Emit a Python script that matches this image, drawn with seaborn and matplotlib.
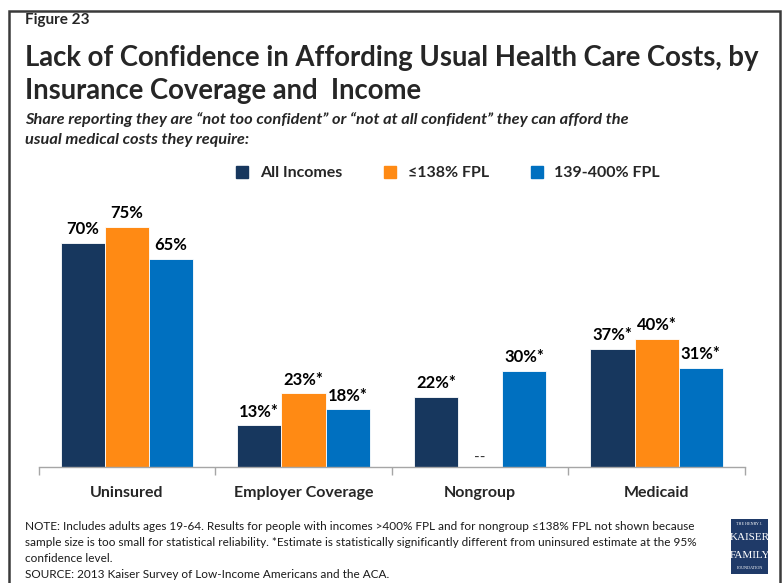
import matplotlib
matplotlib.use("Agg")
import matplotlib.pyplot as plt
from matplotlib.patches import Rectangle
from matplotlib.lines import Line2D
import numpy as np
import pandas as pd
import seaborn as sns

# ---- data ----
categories = ["Uninsured", "Employer Coverage", "Nongroup", "Medicaid"]
income_groups = ["All Incomes", "\u2264138% FPL", "139-400% FPL"]
all_incomes = [70, 13, 22, 37]
low_income = [75, 23, np.nan, 40]        # nongroup <=138% FPL not reported
mid_income = [65, 18, 30, 31]
all_sig = [False, True, True, True]
low_sig = [False, True, False, True]
mid_sig = [False, True, True, True]

colors = ["#17375E", "#FF8A14", "#0070C0"]

series = [all_incomes, low_income, mid_income]
flags = [all_sig, low_sig, mid_sig]

rows = []
for grp, vals in zip(income_groups, series):
    for cat, v in zip(categories, vals):
        rows.append({"coverage": cat, "income": grp, "share": v})
df = pd.DataFrame(rows)

sns.set_theme(style="white")
plt.rcParams["font.family"] = ["Lato", "DejaVu Sans"]

W, H = 784, 583
fig = plt.figure(figsize=(W / 100, H / 100), dpi=100)
fig.patch.set_facecolor("white")

def fx(px):
    return px / W

def fy(py):
    return 1 - py / H

# plot area
ax_left, ax_right, ax_base, ax_top = 38.5, 745, 467, 211
ax = fig.add_axes([fx(ax_left), fy(ax_base), fx(ax_right - ax_left), (ax_base - ax_top) / H])

sns.barplot(data=df, x="coverage", y="share", hue="income", order=categories,
            hue_order=income_groups, palette=colors, width=0.75, gap=0,
            saturation=1, edgecolor="white", linewidth=0.6, legend=False, ax=ax)

ax.set_ylim(0, 80)
ax.set_xlim(-0.5, len(categories) - 0.5)
ax.set_xlabel("")
ax.set_ylabel("")
ax.set_yticks([])
for s in ["top", "right", "left"]:
    ax.spines[s].set_visible(False)
ax.spines["bottom"].set_color("#A6A6A6")
ax.spines["bottom"].set_linewidth(1.0)
ax.set_xticks(np.arange(len(categories) + 1) - 0.5, minor=True)
ax.tick_params(axis="x", which="minor", length=6, color="#A6A6A6", width=1.0, bottom=True)
ax.tick_params(axis="x", which="major", length=0, pad=14, labelsize=11.5)
for lbl in ax.get_xticklabels():
    lbl.set_fontweight("bold")

# value labels
for cont, vals, sig in zip(ax.containers, series, flags):
    kept = [(v, s) for v, s in zip(vals, sig) if not np.isnan(v)]
    labels = [f"{v:.0f}%" + ("*" if s else "") for v, s in kept]
    ax.bar_label(cont, labels=labels, padding=4, fontsize=12, fontweight="bold",
                 color="#000000")

# marker for the suppressed nongroup <=138% FPL estimate
ax.text(2, 0.6, "--", ha="center", va="bottom", fontsize=11, color="#333333")

# legend
handles = [Line2D([0], [0], marker="s", linestyle="", markersize=9,
                  markerfacecolor=c, markeredgecolor=c) for c in colors]
fig.legend(handles, income_groups, loc="center", bbox_to_anchor=(fx(443), fy(173)),
           ncol=3, frameon=False, handletextpad=0.1, columnspacing=2.0,
           prop={"weight": "bold", "size": 11.5})

# headings
fig.text(fx(25), fy(20), "Figure 23", fontsize=11, fontweight="bold", va="center")
fig.text(fx(25), fy(58), "Lack of Confidence in Affording Usual Health Care Costs, by",
         fontsize=19.8, fontweight="bold", va="center")
fig.text(fx(25), fy(91), "Insurance Coverage and  Income",
         fontsize=19.8, fontweight="bold", va="center")
fig.text(fx(25), fy(120),
         "Share reporting they are \u201cnot too confident\u201d or \u201cnot at all confident\u201d they can afford the",
         fontsize=11.8, fontweight="bold", fontstyle="italic", va="center")
fig.text(fx(25), fy(140), "usual medical costs they require:",
         fontsize=11.8, fontweight="bold", fontstyle="italic", va="center")

# notes
notes = [
    "NOTE: Includes adults ages 19-64. Results for people with incomes >400% FPL and for nongroup \u2264138% FPL not shown because",
    "sample size is too small for statistical reliability. *Estimate is statistically significantly different from uninsured estimate at the 95%",
    "confidence level.",
    "SOURCE: 2013 Kaiser Survey of Low-Income Americans and the ACA.",
]
for i, line in enumerate(notes):
    fig.text(fx(25), fy(527 + 16 * i), line, fontsize=8.5, va="center", color="#1a1a1a")

# logo block
fig.patches.append(Rectangle((fx(731), fy(574)), fx(37), (574 - 519) / H,
                             transform=fig.transFigure, facecolor="#1F3A68",
                             edgecolor="none"))
serif = ["Liberation Serif", "DejaVu Serif"]
fig.text(fx(749.5), fy(524), "THE HENRY J.", fontsize=3, color="white", ha="center", va="center", family=serif)
fig.text(fx(749.5), fy(537), "KAISER", fontsize=8, color="white", ha="center", va="center", family=serif)
fig.text(fx(749.5), fy(555), "FAMILY", fontsize=8, color="white", ha="center", va="center", family=serif)
fig.text(fx(749.5), fy(568), "FOUNDATION", fontsize=3, color="white", ha="center", va="center", family=serif)

# outer frame
fig.patches.append(Rectangle((fx(9), fy(590)), fx(771), (590 - 11) / H,
                             transform=fig.transFigure, facecolor="none",
                             edgecolor="#3a3a3a", linewidth=1.8, clip_on=False))

fig.savefig("out.png", dpi=100, facecolor="white")
